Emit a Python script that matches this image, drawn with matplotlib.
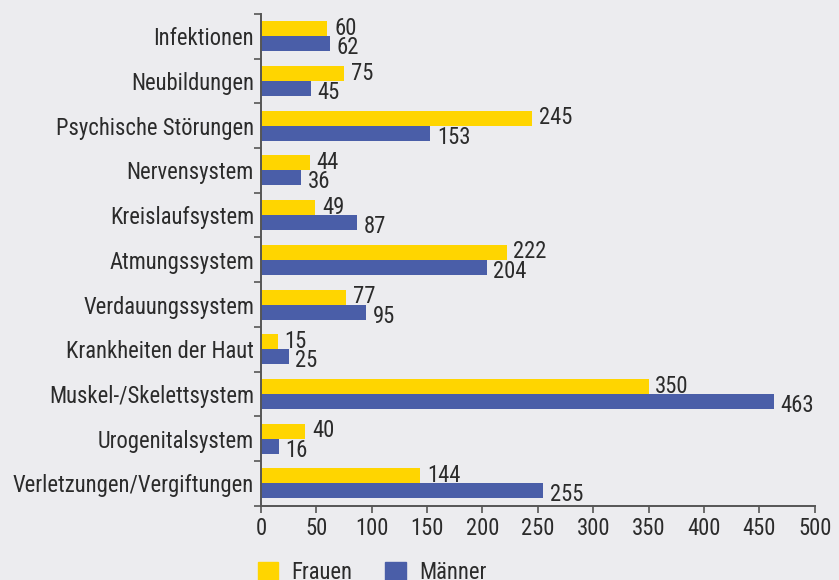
import matplotlib
matplotlib.use("Agg")
import matplotlib.pyplot as plt
from matplotlib import font_manager
from matplotlib.patches import Patch
import numpy as np

# pick a narrow sans if one is installed
names = {f.name for f in font_manager.fontManager.ttflist}
family = 'Liberation Sans'
for cand in ['Roboto Condensed', 'Liberation Sans Narrow', 'Open Sans Condensed']:
    if cand in names:
        family = cand
        break
plt.rcParams['font.family'] = [family, 'DejaVu Sans']

categories = ['Infektionen', 'Neubildungen', 'Psychische Störungen', 'Nervensystem',
              'Kreislaufsystem', 'Atmungssystem', 'Verdauungssystem',
              'Krankheiten der Haut', 'Muskel-/Skelettsystem', 'Urogenitalsystem',
              'Verletzungen/Vergiftungen']
frauen = [60, 75, 245, 44, 49, 222, 77, 15, 350, 40, 144]
maenner = [62, 45, 153, 36, 87, 204, 95, 25, 463, 16, 255]
xticks = [0, 50, 100, 150, 200, 250, 300, 350, 400, 450, 500]

bg = '#ececef'
yellow = '#ffd500'
blue = '#4a5ea8'
dark = '#2b2b2b'
fs = 16.3

fig = plt.figure(figsize=(8.39, 5.80), dpi=100, facecolor=bg)
ax = fig.add_axes([0.311, 0.128, 0.66, 0.848], facecolor=bg)

y = np.arange(len(categories))
h = 0.335
ax.barh(y - h / 2, frauen, height=h, color=yellow)
ax.barh(y + h / 2, maenner, height=h, color=blue)

for yi, f, m in zip(y, frauen, maenner):
    ax.text(f + 6, yi - h / 2 - 0.01, str(f), va='center', ha='left', fontsize=fs, color=dark)
    ax.text(m + 6, yi + h / 2 + 0.09, str(m), va='center', ha='left', fontsize=fs, color=dark)

ax.set_xlim(0, 500)
ax.set_ylim(len(categories) - 0.5, -0.5)
ax.set_xticks(xticks)
ax.set_xticklabels([str(t) for t in xticks], fontsize=fs, color=dark)
ax.set_yticks(y)
ax.set_yticklabels(categories, fontsize=fs, color=dark)
ax.set_yticks(np.arange(-0.5, len(categories), 1.0), minor=True)
ax.tick_params(axis='y', which='major', length=0, pad=5)
ax.tick_params(axis='y', which='minor', length=5, width=1.2, color='#555555', direction='out')
ax.tick_params(axis='x', which='major', length=5, width=1.2, color='#555555', pad=3)

for s in ['top', 'right']:
    ax.spines[s].set_visible(False)
for s in ['left', 'bottom']:
    ax.spines[s].set_color('#555555')
    ax.spines[s].set_linewidth(1.4)

handles = [Patch(color=yellow, label='Frauen'), Patch(color=blue, label='Männer')]
fig.legend(handles=handles, loc='upper left', bbox_to_anchor=(0.307, 0.033),
           ncol=2, frameon=False, fontsize=fs, handlelength=0.9, handleheight=0.9,
           columnspacing=1.45, handletextpad=0.6, labelcolor=dark, borderaxespad=0,
           borderpad=0)

fig.savefig('out.png', dpi=100, facecolor=bg)
